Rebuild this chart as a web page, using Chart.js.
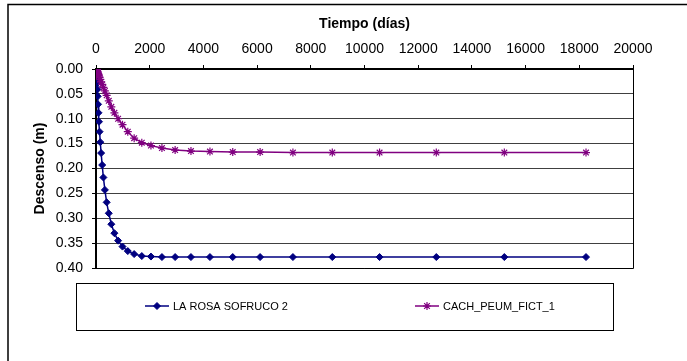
<!DOCTYPE html>
<html>
<head>
<meta charset="utf-8">
<script src="https://cdn.jsdelivr.net/npm/chart.js@4.4.1/dist/chart.umd.min.js"></script>
<style>
  html, body { margin: 0; padding: 0; background: #fff; overflow: hidden; }
  canvas { display: block; }
</style>
</head>
<body>
<canvas id="grafico" width="687" height="361"></canvas>
<script>
// Datos (tiempo en días, descenso en metros)
const tiempoDias = [10, 12, 15, 18, 21, 26, 31, 37, 44, 53, 64, 77, 92, 111, 133, 159, 191, 230, 275, 331,
  397, 476, 571, 685, 823, 987, 1184, 1421, 1706, 2047, 2456, 2947, 3537, 4244, 5093, 6112, 7334, 8801,
  10561, 12674, 15208, 18250];
const descensoLaRosa = [0.000, 0.000, 0.001, 0.002, 0.004, 0.007, 0.012, 0.019, 0.029, 0.041, 0.055, 0.071,
  0.088, 0.106, 0.126, 0.147, 0.169, 0.193, 0.218, 0.243, 0.268, 0.290, 0.312, 0.330, 0.345, 0.357, 0.366,
  0.372, 0.376, 0.377, 0.378, 0.378, 0.378, 0.378, 0.378, 0.378, 0.378, 0.378, 0.378, 0.378, 0.378, 0.378];
const descensoCach = [0.000, 0.000, 0.000, 0.000, 0.001, 0.001, 0.002, 0.003, 0.004, 0.005, 0.007, 0.009,
  0.011, 0.014, 0.017, 0.021, 0.026, 0.031, 0.037, 0.044, 0.053, 0.064, 0.076, 0.088, 0.100, 0.112, 0.126,
  0.139, 0.148, 0.154, 0.159, 0.163, 0.165, 0.166, 0.167, 0.167, 0.168, 0.168, 0.168, 0.168, 0.168, 0.168];
const etiquetasSerie = ['LA ROSA SOFRUCO 2', 'CACH_PEUM_FICT_1'];
const ticksTiempo = [0, 2000, 4000, 6000, 8000, 10000, 12000, 14000, 16000, 18000, 20000];
const ticksDescenso = [0.00, 0.05, 0.10, 0.15, 0.20, 0.25, 0.30, 0.35, 0.40];

const FONT = 'Liberation Sans, Arial, sans-serif';
const AZUL = '#000080';
const MORADO = '#800080';

function puntos(valores) {
  return tiempoDias.map((t, i) => ({ x: t, y: valores[i] }));
}

// Marco exterior, borde del área de trazado y leyenda con recuadro
const marcoYLeyenda = {
  id: 'marcoYLeyenda',
  beforeDraw(chart) {
    const ctx = chart.ctx;
    ctx.save();
    ctx.fillStyle = '#fff';
    ctx.fillRect(0, 0, chart.width, chart.height);
    ctx.strokeStyle = '#000';
    ctx.lineWidth = 1.5;
    ctx.beginPath();
    ctx.moveTo(8, chart.height);
    ctx.lineTo(8, 4.5);
    ctx.lineTo(chart.width, 4.5);
    ctx.stroke();
    ctx.restore();
  },
  afterDraw(chart) {
    const ctx = chart.ctx;
    const a = chart.chartArea;
    ctx.save();
    ctx.strokeStyle = '#000';
    ctx.lineWidth = 1;
    ctx.beginPath();
    ctx.moveTo(a.right + 0.5, a.top);
    ctx.lineTo(a.right + 0.5, a.bottom + 0.5);
    ctx.lineTo(a.left, a.bottom + 0.5);
    ctx.stroke();

    ctx.strokeRect(76.5, 283.5, 537, 47);

    const entradas = [{ ds: 0, x: 145 }, { ds: 1, x: 415 }];
    const y = 306;
    ctx.font = '11px ' + FONT;
    ctx.textBaseline = 'middle';
    entradas.forEach((e) => {
      const ds = chart.data.datasets[e.ds];
      ctx.strokeStyle = ds.borderColor;
      ctx.fillStyle = ds.backgroundColor;
      ctx.lineWidth = 1.5;
      ctx.beginPath();
      ctx.moveTo(e.x, y);
      ctx.lineTo(e.x + 24, y);
      ctx.stroke();
      ctx.lineWidth = ds.pointBorderWidth;
      Chart.helpers.drawPoint(ctx, {
        pointStyle: ds.pointStyle, radius: ds.pointRadius, borderWidth: ds.pointBorderWidth, rotation: 0,
      }, e.x + 12, y);
      ctx.fillStyle = '#000';
      ctx.fillText(ds.label, e.x + 28, y + 0.5);
    });
    ctx.restore();
  },
};

new Chart(document.getElementById('grafico'), {
  type: 'scatter',
  data: {
    datasets: [{
      label: etiquetasSerie[0],
      data: puntos(descensoLaRosa),
      showLine: true,
      borderColor: AZUL,
      backgroundColor: AZUL,
      borderWidth: 1.5,
      pointStyle: 'rectRot',
      pointRadius: 3.5,
      pointBorderWidth: 1,
      order: 1,
    }, {
      label: etiquetasSerie[1],
      data: puntos(descensoCach),
      showLine: true,
      borderColor: MORADO,
      backgroundColor: MORADO,
      borderWidth: 1.5,
      pointStyle: 'star',
      pointRadius: 4,
      pointBorderWidth: 1.2,
      order: 0,
    }],
  },
  options: {
    responsive: false,
    devicePixelRatio: 1,
    animation: false,
    layout: { padding: { left: 0, top: 0, right: 54, bottom: 93 } },
    plugins: { legend: { display: false }, tooltip: { enabled: false } },
    scales: {
      x: {
        type: 'linear',
        position: 'top',
        min: 0,
        max: 20000,
        afterBuildTicks: (s) => { s.ticks = ticksTiempo.map((v) => ({ value: v })); },
        afterFit: (s) => { s.height = 69; },
        ticks: {
          color: '#000',
          font: { family: FONT, size: 14 },
          padding: 7,
          maxRotation: 0,
          autoSkip: false,
          callback: (v) => String(v),
        },
        grid: { drawOnChartArea: false, drawTicks: true, tickLength: 4, tickColor: '#000' },
        border: { color: '#000', width: 2 },
        title: {
          display: true,
          text: 'Tiempo (días)',
          color: '#000',
          font: { family: FONT, size: 14, weight: 'bold' },
          padding: { top: 16, bottom: 0 },
        },
      },
      y: {
        type: 'linear',
        reverse: true,
        min: 0,
        max: 0.4,
        afterBuildTicks: (s) => { s.ticks = ticksDescenso.map((v) => ({ value: v })); },
        afterFit: (s) => { s.width = 96; },
        ticks: {
          color: '#000',
          font: { family: FONT, size: 14 },
          padding: 9,
          callback: (v) => Number(v).toFixed(2),
        },
        grid: { color: '#404040', lineWidth: 1, tickLength: 4, tickColor: '#000' },
        border: { color: '#000', width: 2 },
        title: {
          display: true,
          text: 'Descenso (m)',
          color: '#000',
          font: { family: FONT, size: 14, weight: 'bold' },
          padding: { top: 32, bottom: 0 },
        },
      },
    },
  },
  plugins: [marcoYLeyenda],
});
</script>
</body>
</html>
